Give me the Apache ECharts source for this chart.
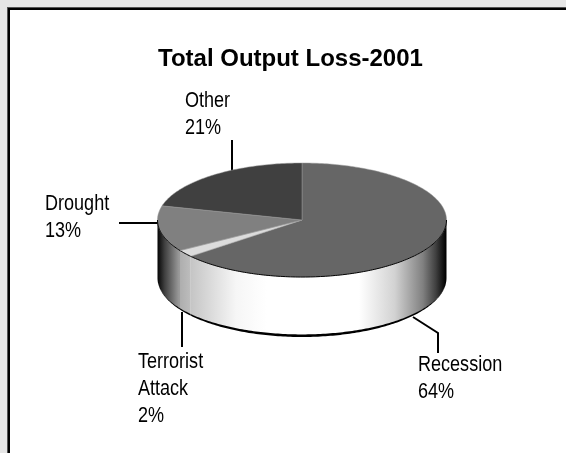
<!DOCTYPE html>
<html>
<head>
<meta charset="utf-8">
<style>
  html, body { margin: 0; padding: 0; background: #fff; }
  #chart { width: 566px; height: 453px; }
</style>
<script src="https://cdn.jsdelivr.net/npm/echarts@6/dist/echarts.min.js"></script>
</head>
<body>
<div id="chart"></div>
<script>
"use strict";

const CATEGORIES = ["Recession", "Terrorist Attack", "Drought", "Other"];
const LABEL_LINES = [["Recession"], ["Terrorist", "Attack"], ["Drought"], ["Other"]];
const VALUES = [64, 2, 13, 21];
const TITLE = "Total Output Loss-2001";

/* ── look of the disc ── */
const CX = 302, CY = 220, RX = 144.5, RY = 57, DEPTH = 58;
const TOP_COLORS = ["#666666", "#dcdcdc", "#808080", "#404040"];
const SIDE_STOPS = [
  { x0: 190, x1: 446, stops: [[0, "#c4c4c4"], [0.18, "#f6f6f6"], [0.3, "#ffffff"], [0.66, "#ffffff"], [0.8, "#d2d2d2"], [0.91, "#808080"], [0.96, "#404040"], [1, "#000000"]] },
  { x0: 179, x1: 190, stops: [[0, "#acacac"], [1, "#bcbcbc"]] },
  { x0: 157, x1: 179, stops: [[0, "#000000"], [0.35, "#404040"], [0.7, "#707070"], [1, "#9a9a9a"]] },
  null
];

/* label block left/top, leader polyline for each category */
const LABEL_POS = [[418, 351], [138, 348], [45, 190], [185, 87]];
const LEADERS = [
  [[413, 317], [438, 333], [438, 353]],
  [[182, 312], [182, 347]],
  [[119, 223], [158, 223]],
  [[232, 140], [232, 173]]
];
const LINE_H = 27;
const LABEL_SQUEEZE = 0.82;

const TOTAL = VALUES.reduce((a, b) => a + b, 0);
const STARTS = [];
VALUES.reduce((acc, v, i) => { STARTS[i] = acc; return acc + v; }, 0);

const toDeg = v => v / TOTAL * 360;
function rimPoint(deg, dy, extra) {
  const r = deg * Math.PI / 180;
  return [CX + RX * Math.sin(r), CY - (RY + extra) * Math.cos(r) + dy];
}
function arc(a0, a1, dy, extra) {
  const pts = [];
  const n = Math.max(2, Math.ceil(Math.abs(a1 - a0)));
  for (let k = 0; k <= n; k++) pts.push(rimPoint(a0 + (a1 - a0) * k / n, dy, extra || 0));
  return pts;
}

/* ── side wall: only the part of each slice facing the viewer (90°–270°) ── */
function renderSide(params) {
  const i = params.dataIndex;
  const a0 = Math.max(toDeg(STARTS[i]), 90);
  const a1 = Math.min(toDeg(STARTS[i] + VALUES[i]), 270);
  if (a1 <= a0 || !SIDE_STOPS[i]) return null;
  const s = SIDE_STOPS[i];
  const fill = new echarts.graphic.LinearGradient(s.x0, 0, s.x1, 0,
    s.stops.map(p => ({ offset: p[0], color: p[1] })), true);
  return {
    type: "group",
    children: [
      { type: "polygon", shape: { points: arc(a0, a1, 0).concat(arc(a1, a0, DEPTH)) }, style: { fill: fill } },
      // 底边黑色月牙，两端收细
      { type: "polygon", shape: { points: arc(a0, a1, DEPTH, -0.6).concat(arc(a1, a0, DEPTH, 2)) }, style: { fill: "#000" } }
    ]
  };
}

/* ── top face ── */
function renderTop(params) {
  const i = params.dataIndex;
  const a0 = toDeg(STARTS[i]);
  const a1 = toDeg(STARTS[i] + VALUES[i]);
  const children = [{
    type: "polygon",
    shape: { points: [[CX, CY]].concat(arc(a0, a1, 0)) },
    style: { fill: TOP_COLORS[i], stroke: "#9a9a9a", lineWidth: 0.5 }
  }];
  const f0 = Math.max(a0, 90), f1 = Math.min(a1, 270);
  if (f1 > f0) {
    children.push({ type: "polyline", shape: { points: arc(f0, f1, 0) }, style: { fill: null, stroke: "#000", lineWidth: 1 } });
  }
  return { type: "group", children: children };
}

const graphics = [
  { type: "rect", z: 0, shape: { x: 0, y: 0, width: 566, height: 453 }, style: { fill: "#e6e6e6" } },
  { type: "rect", z: 1, shape: { x: 7, y: 7, width: 559, height: 446 }, style: { fill: "#555555" } },
  { type: "rect", z: 1, shape: { x: 8, y: 8, width: 558, height: 445 }, style: { fill: "#000000" } },
  { type: "rect", z: 1, shape: { x: 10, y: 10, width: 556, height: 443 }, style: { fill: "#ffffff" } }
];
LEADERS.forEach(pts => {
  graphics.push({ type: "polyline", z: 2, shape: { points: pts }, style: { fill: null, stroke: "#000", lineWidth: 2 } });
});
CATEGORIES.forEach((c, i) => {
  const lines = LABEL_LINES[i].concat(VALUES[i] + "%");
  graphics.push({
    type: "text", z: 5, x: LABEL_POS[i][0], y: LABEL_POS[i][1], scaleX: LABEL_SQUEEZE,
    style: { text: lines.join("\n"), font: "22px 'Liberation Sans', Arial, sans-serif", lineHeight: LINE_H, fill: "#000", textVerticalAlign: "top" }
  });
});

const chart = echarts.init(document.getElementById("chart"), null, { renderer: "canvas" });
chart.setOption({
  backgroundColor: "#ffffff",
  animation: false,
  title: {
    text: TITLE, left: 153, top: 42,
    textStyle: { fontFamily: "'Liberation Sans', Arial, sans-serif", fontSize: 24, fontWeight: "bold", color: "#000" }
  },
  graphic: graphics,
  series: [
    { type: "custom", name: "side", coordinateSystem: "none", silent: true, z: 3, renderItem: renderSide, data: VALUES.map(v => [v]) },
    { type: "custom", name: "top", coordinateSystem: "none", silent: true, z: 4, renderItem: renderTop, data: VALUES.map(v => [v]) }
  ]
});
</script>
</body>
</html>
